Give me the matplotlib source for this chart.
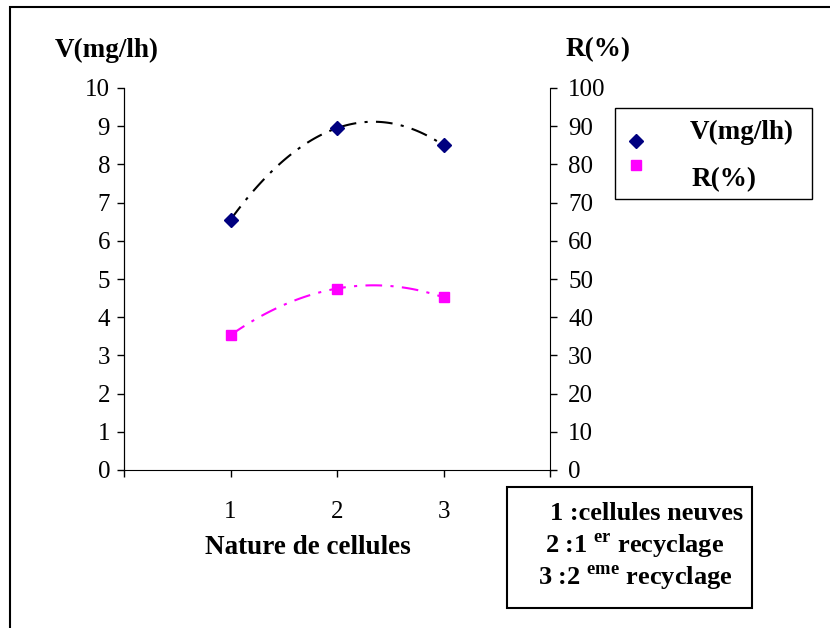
import numpy as np
import matplotlib
matplotlib.use("Agg")
import matplotlib.pyplot as plt
from matplotlib.patches import Rectangle
from matplotlib.lines import Line2D

plt.rcParams['font.family'] = ['Liberation Serif', 'DejaVu Serif']
plt.rcParams['mathtext.fontset'] = 'custom'
plt.rcParams['mathtext.rm'] = 'Liberation Serif'
plt.rcParams['mathtext.bf'] = 'Liberation Serif:bold'

# data
nature = [1, 2, 3]
vitesse = [6.55, 8.95, 8.5]      # V(mg/lh), left axis
rendement = [35.3, 47.5, 45.2]   # R(%), right axis
x_tick_labels = ['', '1', '2', '3', '']
legend_lines = ['1 :cellules neuves',
                r'2 :1 $^{\mathbf{er}}$ recyclage',
                r'3 :2 $^{\mathbf{eme}}$ recyclage']

W, H = 830, 628


def fx(px):
    return px / W


def fy(py):
    return 1 - py / H


fig = plt.figure(figsize=(8.3, 6.28), dpi=100)
ax = fig.add_axes([fx(124), fy(470), fx(550) - fx(124), fy(88) - fy(470)])
ax2 = ax.twinx()

# polynomial (order 2) trend lines, like the spreadsheet did
xs = np.linspace(1, 3, 100)
cv = np.polyfit(nature, vitesse, 2)
cr = np.polyfit(nature, rendement, 2)
ax.plot(xs, np.polyval(cv, xs), color='black', lw=1.5, dashes=(8, 4, 1.5, 4), zorder=2)
ax2.plot(xs, np.polyval(cr, xs), color='#FF00FF', lw=1.5, dashes=(8, 4, 1.5, 4), zorder=2)

ax.plot(nature, vitesse, linestyle='none', marker='D', ms=7, color='#000080', zorder=3)
ax2.plot(nature, rendement, linestyle='none', marker='s', ms=7.5, color='#FF00FF', zorder=3)

ax.set_xlim(0, 4)
ax.set_ylim(0, 10)
ax2.set_ylim(0, 100)
ax.set_xticks(range(5))
ax.set_xticklabels(x_tick_labels)
ax.set_yticks(range(11))
ax2.set_yticks(range(0, 101, 10))

for a in (ax, ax2):
    a.spines['top'].set_visible(False)
    a.tick_params(labelsize=18, length=5, width=1, direction='out', colors='black')
ax.tick_params(axis='x', pad=17)
ax.tick_params(axis='y', pad=5)
ax2.tick_params(axis='y', pad=8)
ax2.spines['bottom'].set_visible(False)
ax.spines['right'].set_visible(False)

lab = dict(ha='center', va='center', fontsize=19.5, fontweight='bold')
fig.text(fx(107), fy(50), 'V(mg/lh)', **lab)
fig.text(fx(598), fy(50), 'R(%)', **lab)
fig.text(fx(308), fy(548), 'Nature de cellules', **lab)

# legend box
fig.add_artist(Rectangle((fx(615), fy(199)), fx(812) - fx(615), fy(108) - fy(199),
                         transform=fig.transFigure, fill=False, lw=1, ec='black'))
fig.add_artist(Line2D([fx(636)], [fy(141)], marker='D', ms=7, color='#000080',
                      linestyle='none', transform=fig.transFigure))
fig.add_artist(Line2D([fx(636)], [fy(165)], marker='s', ms=7.5, color='#FF00FF',
                      linestyle='none', transform=fig.transFigure))
fig.text(fx(690), fy(132), 'V(mg/lh)', ha='left', va='center', fontsize=19.5, fontweight='bold')
fig.text(fx(692), fy(180), 'R(%)', ha='left', va='center', fontsize=19.5, fontweight='bold')

# explanation box
fig.add_artist(Rectangle((fx(507), fy(608)), fx(752) - fx(507), fy(487) - fy(608),
                         transform=fig.transFigure, fill=False, lw=1.5, ec='black'))
for i, line in enumerate(legend_lines):
    fig.text(fx([647, 635, 635][i]), fy(514 + 32 * i), line, ha='center', va='center',
             fontsize=19, fontweight='bold')

# outer chart frame
fig.add_artist(Rectangle((fx(10), fy(640)), fx(840) - fx(10), fy(7) - fy(640),
                         transform=fig.transFigure, fill=False, lw=1.5, ec='black'))

fig.savefig('out.png', dpi=100)
